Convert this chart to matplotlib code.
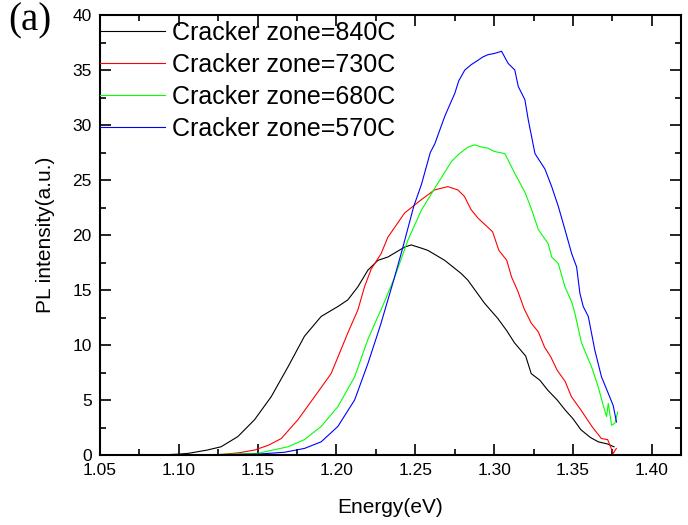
import matplotlib
matplotlib.use('Agg')
import matplotlib.pyplot as plt
from matplotlib.ticker import MultipleLocator

plt.rcParams['font.family'] = ['Liberation Sans', 'DejaVu Sans']

# PL spectra (energy in eV, intensity in a.u.)
labels = ['Cracker zone=840C', 'Cracker zone=730C',
          'Cracker zone=680C', 'Cracker zone=570C']
colors = ['black', 'red', '#00ff00', 'blue']

e_840 = [1.078, 1.090, 1.100, 1.106, 1.112, 1.118, 1.1268, 1.1374, 1.148, 1.1586,
         1.1692, 1.1797, 1.1903, 1.2009, 1.2072, 1.2136, 1.2199, 1.2263, 1.2326, 1.2432,
         1.2474, 1.254, 1.258, 1.2686, 1.2791, 1.2833, 1.2939, 1.3024, 1.308, 1.3129,
         1.320, 1.3235, 1.329, 1.334, 1.340, 1.345, 1.350, 1.355, 1.361, 1.366,
         1.372, 1.376]
i_840 = [0.0, 0.02, 0.08, 0.15, 0.3, 0.45, 0.75, 1.67, 3.2, 5.3,
         8.0, 10.8, 12.6, 13.5, 14.1, 15.3, 16.8, 17.7, 18.0, 18.9,
         19.1, 18.8, 18.6, 17.7, 16.5, 15.9, 13.8, 12.4, 11.3, 10.2,
         9.0, 7.4, 6.8, 5.9, 5.0, 4.1, 3.3, 2.3, 1.6, 1.2,
         1.0, 0.75]

e_730 = [1.078, 1.100, 1.1268, 1.138, 1.148, 1.157, 1.165, 1.1755, 1.1861, 1.1966,
         1.2009, 1.2072, 1.2136, 1.2178, 1.2220, 1.2283, 1.2326, 1.2432, 1.2537, 1.2622,
         1.2706, 1.277, 1.2812, 1.2854, 1.290, 1.299, 1.303, 1.308, 1.311, 1.315,
         1.319, 1.3235, 1.328, 1.332, 1.336, 1.340, 1.345, 1.349, 1.355, 1.362,
         1.368, 1.372, 1.3755, 1.3775]
i_730 = [0.0, 0.01, 0.05, 0.2, 0.45, 0.9, 1.5, 3.2, 5.3, 7.4,
         8.9, 11.1, 13.2, 15.3, 16.9, 18.3, 19.8, 22.0, 23.2, 24.1,
         24.4, 24.1, 23.5, 22.3, 21.5, 20.3, 18.6, 17.7, 16.2, 14.9,
         13.3, 12.0, 11.2, 9.8, 8.9, 7.7, 6.7, 5.3, 4.1, 2.6,
         1.5, 1.4, 0.15, 0.6]

e_680 = [1.078, 1.120, 1.150, 1.1692, 1.1797, 1.1903, 1.2009, 1.2115, 1.2199, 1.2263,
         1.2283, 1.237, 1.2455, 1.254, 1.2617, 1.273, 1.278, 1.2835, 1.2875, 1.292,
         1.296, 1.300, 1.3068, 1.3131, 1.3195, 1.3238, 1.328, 1.3343, 1.3365, 1.3407,
         1.3449, 1.3492, 1.3512, 1.3554, 1.3618, 1.366, 1.3692, 1.3713, 1.3724, 1.3745,
         1.3766, 1.3783]
i_680 = [0.0, 0.03, 0.15, 0.75, 1.4, 2.6, 4.4, 7.1, 10.5, 12.6,
         13.2, 16.2, 19.6, 22.3, 24.1, 26.7, 27.4, 28.0, 28.2, 28.0,
         27.9, 27.6, 27.4, 25.6, 23.9, 22.3, 20.5, 19.2, 18.0, 17.4,
         15.3, 13.9, 12.9, 10.2, 8.0, 6.2, 4.5, 3.5, 4.7, 2.7,
         2.9, 3.9]

e_570 = [1.078, 1.120, 1.150, 1.167, 1.1797, 1.1903, 1.2009, 1.2115, 1.2199, 1.2263,
         1.2283, 1.2363, 1.2412, 1.2490, 1.2539, 1.2595, 1.2624, 1.2687, 1.2751, 1.2775,
         1.2814, 1.2856, 1.2899, 1.293, 1.2962, 1.300, 1.3047, 1.3089, 1.3131, 1.3153,
         1.3195, 1.3216, 1.3259, 1.3322, 1.3365, 1.3407, 1.3449, 1.3492, 1.3523, 1.3544,
         1.3565, 1.3597, 1.3639, 1.3681, 1.3724, 1.3755, 1.3776]
i_570 = [0.0, 0.02, 0.08, 0.25, 0.6, 1.2, 2.6, 5.0, 8.3, 11.1,
         12.0, 15.9, 18.4, 22.6, 24.6, 27.5, 28.3, 30.8, 32.9, 34.0,
         35.0, 35.5, 35.9, 36.2, 36.4, 36.5, 36.7, 35.6, 35.0, 33.5,
         32.3, 30.5, 27.4, 26.0, 24.4, 22.6, 20.5, 18.3, 17.1, 14.7,
         13.5, 12.6, 9.5, 7.1, 5.6, 4.5, 3.0]

energies = [e_840, e_730, e_680, e_570]
intensities = [i_840, i_730, i_680, i_570]

fig = plt.figure(figsize=(6.88, 5.25), dpi=100)
ax = fig.add_axes([0.1453, 0.1333, 0.8445, 0.8381])

for e, i, c, lab in zip(energies, intensities, colors, labels):
    ax.plot(e, i, color=c, lw=0.8, label=lab)

ax.set_xlim(1.05, 1.4185)
ax.set_ylim(0, 40)
ax.xaxis.set_major_locator(MultipleLocator(0.05))
ax.xaxis.set_minor_locator(MultipleLocator(0.025))
ax.yaxis.set_major_locator(MultipleLocator(5))
ax.yaxis.set_minor_locator(MultipleLocator(2.5))
ax.xaxis.set_major_formatter(plt.FormatStrFormatter('%.2f'))

ax.tick_params(which='both', direction='in', top=True, right=True,
               labelsize=12.5, width=1.2)
ax.tick_params(which='major', length=8, pad=6)
ax.tick_params(which='minor', length=4)
for s in ax.spines.values():
    s.set_linewidth(1.5)

ax.set_xlabel('Energy(eV)', fontsize=15, labelpad=14)
ax.set_ylabel('PL intensity(a.u.)', fontsize=15, labelpad=12)

ax.legend(loc='upper left', bbox_to_anchor=(0.0, 0.986), frameon=False,
          fontsize=18, handlelength=2.6, handletextpad=0.28,
          labelspacing=0.32, borderpad=0, borderaxespad=0)

fig.text(0.012, 0.995, '(a)', va='top', ha='left', fontsize=28,
         family='Liberation Serif')

fig.savefig('out.png', dpi=100)
